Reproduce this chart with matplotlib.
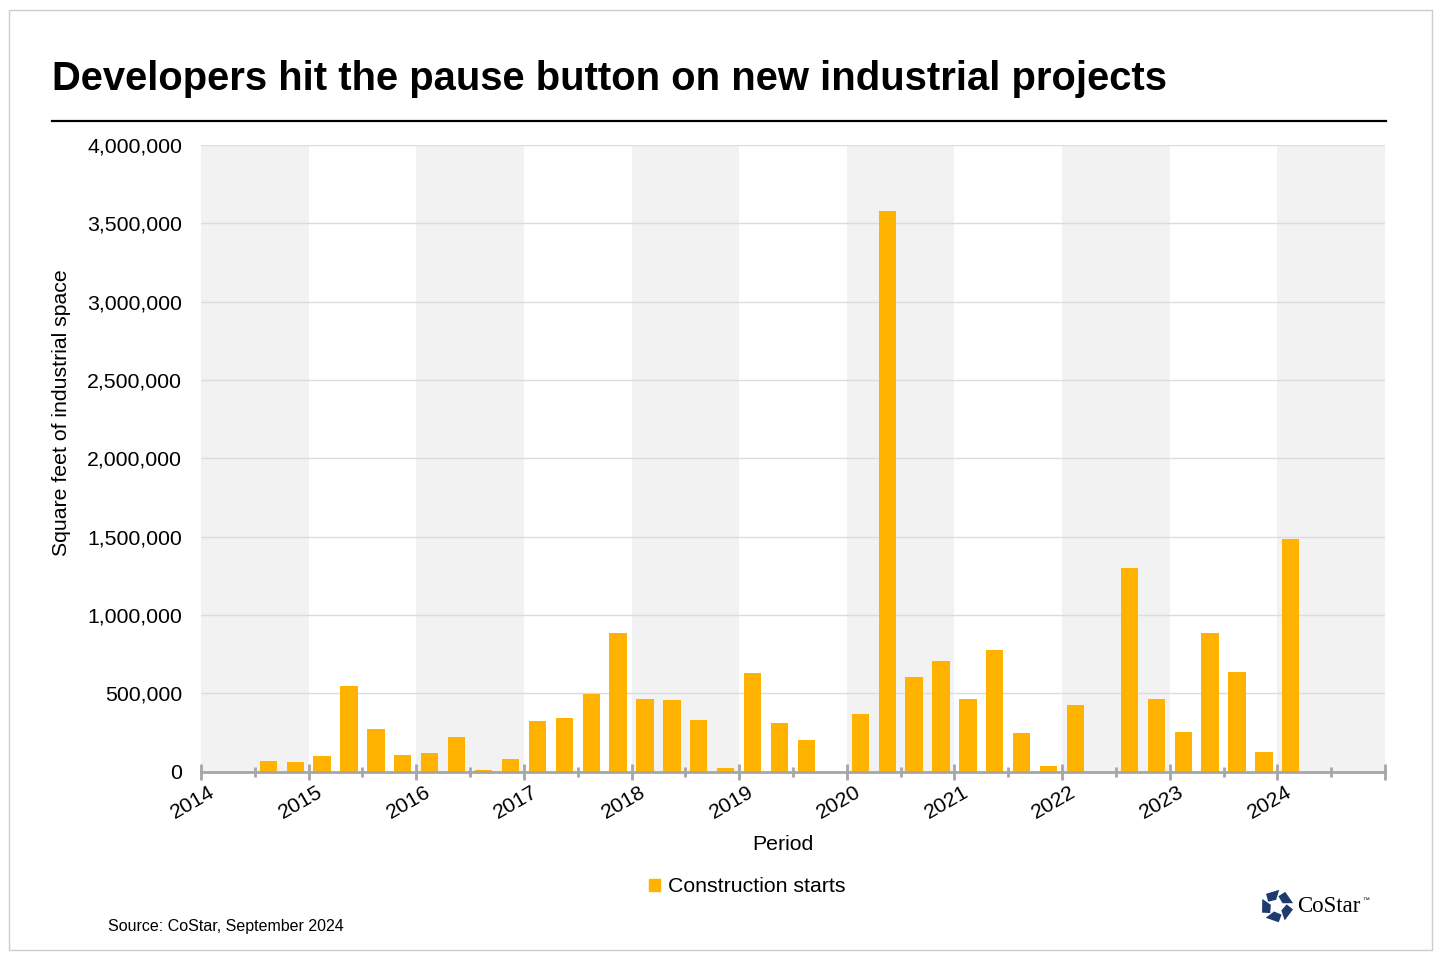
import numpy as np
import matplotlib
matplotlib.use("Agg")
from matplotlib import pyplot as plt
from matplotlib.patches import Patch, Rectangle, Polygon
from matplotlib.lines import Line2D
from matplotlib.ticker import FuncFormatter, FixedLocator
import matplotlib.transforms as mtransforms

plt.rcParams["font.family"] = ["Liberation Sans", "DejaVu Sans"]

# quarterly construction starts, square feet
periods = [
    "2014Q3", "2014Q4",
    "2015Q1", "2015Q2", "2015Q3", "2015Q4",
    "2016Q1", "2016Q2", "2016Q3", "2016Q4",
    "2017Q1", "2017Q2", "2017Q3", "2017Q4",
    "2018Q1", "2018Q2", "2018Q3", "2018Q4",
    "2019Q1", "2019Q2", "2019Q3", "2019Q4",
    "2020Q1", "2020Q2", "2020Q3", "2020Q4",
    "2021Q1", "2021Q2", "2021Q3", "2021Q4",
    "2022Q1", "2022Q2", "2022Q3", "2022Q4",
    "2023Q1", "2023Q2", "2023Q3", "2023Q4",
    "2024Q1",
]
starts = [
    68000, 62000,
    100000, 547000, 273000, 107000,
    119000, 222000, 11000, 81000,
    324000, 343000, 498000, 886000,
    464000, 458000, 330000, 24000,
    630000, 311000, 202000, 0,
    368000, 3580000, 605000, 707000,
    464000, 777000, 247000, 36000,
    426000, 0, 1301000, 464000,
    254000, 886000, 637000, 126000,
    1486000,
]
year_labels = [str(y) for y in range(2014, 2025)] + [""]

BAR = "#FFB300"
AXIS = "#a6a6a6"
FS = 15.3

x = [int(p[:4]) + (int(p[5]) - 0.5) / 4 for p in periods]

fig = plt.figure(figsize=(14.4, 9.6), dpi=100)
W, H = 1440, 960
ax = fig.add_axes([201 / W, 1 - 771.5 / H, (1385 - 201) / W, (771.5 - 145) / H])

# alternating year bands
for y in range(2014, 2025, 2):
    ax.axvspan(y, y + 1, color="#f2f2f2", zorder=0, lw=0)

ax.bar(x, starts, width=0.16, color=BAR, zorder=3, label="Construction starts")

ax.set_xlim(2014, 2025)
ax.set_ylim(0, 4000000)
ax.set_yticks(np.arange(0, 4000001, 500000))
ax.yaxis.set_major_formatter(FuncFormatter(lambda v, p: f"{int(v):,}"))
ax.yaxis.grid(True, color="#dcdcdc", lw=1, zorder=1)
ax.set_axisbelow(True)

ax.xaxis.set_major_locator(FixedLocator(range(2014, 2026)))
ax.set_xticklabels(year_labels)
ax.xaxis.set_minor_locator(FixedLocator(np.arange(2014.5, 2025, 1)))

for s in ["top", "right", "left"]:
    ax.spines[s].set_visible(False)
ax.spines["bottom"].set_color(AXIS)
ax.spines["bottom"].set_linewidth(2)
ax.spines["bottom"].set_zorder(4)

ax.tick_params(axis="y", length=0, pad=13.5, labelsize=FS)
ax.tick_params(axis="x", which="major", direction="inout", length=11, width=2,
               color=AXIS, labelsize=FS, pad=2)
ax.tick_params(axis="x", which="minor", direction="inout", length=7, width=2, color=AXIS)

shift = mtransforms.ScaledTranslation(-8 / 100, 0, fig.dpi_scale_trans)
for lab in ax.get_xticklabels():
    lab.set_rotation(30)
    lab.set_ha("center")
    lab.set_transform(lab.get_transform() + shift)

fig.text(62 / W, 1 - 413 / H, "Square feet of industrial space", rotation=90,
         ha="center", va="center", fontsize=FS)
fig.text(783 / W, 1 - 845 / H, "Period", ha="center", va="center", fontsize=FS)

# title and rule
fig.text(52 / W, 1 - 79 / H, "Developers hit the pause button on new industrial projects",
         ha="left", va="center", fontsize=28.8, fontweight="bold")
fig.add_artist(Line2D([52 / W, 1386 / W], [1 - 121 / H, 1 - 121 / H], color="black", lw=1.6))

fig.legend(handles=[Patch(color=BAR, label="Construction starts")],
           loc="center", bbox_to_anchor=(747 / W, 1 - 887 / H), frameon=False,
           fontsize=FS, handlelength=0.55, handleheight=0.55, handletextpad=0.35)

fig.text(108 / W, 1 - 926 / H, "Source: CoStar, September 2024", ha="left", va="center",
         fontsize=11.5)

# outer frame
fig.add_artist(Rectangle((9 / W, 1 - 950 / H), (1432 - 9) / W, (950 - 10) / H,
                         fill=False, edgecolor="#cccccc", lw=1))

# CoStar logo
lax = fig.add_axes([1259 / W, 1 - 924 / H, 36 / W, 36 / H])
lax.set_xlim(-1.1, 1.1)
lax.set_ylim(-1.1, 1.1)
lax.axis("off")
def pol(r, a):
    a = np.deg2rad(a)
    return (r * np.cos(a), r * np.sin(a))
for k in range(5):
    t = 90 + 72 * k
    pts = [pol(1.0, t - 8), pol(1.0, t + 42), pol(0.6, t + 64), pol(0.38, t + 8)]
    lax.add_patch(Polygon(pts, closed=True, color="#1f3a6e", lw=0))
fig.text(1297 / W, 1 - 907 / H, "CoStar", ha="left", va="center", fontsize=16.5,
         family=["Liberation Serif", "DejaVu Serif"])
fig.text(1362 / W, 1 - 901 / H, "\u2122", ha="left", va="center", fontsize=5)

fig.savefig("out.png", dpi=100)
